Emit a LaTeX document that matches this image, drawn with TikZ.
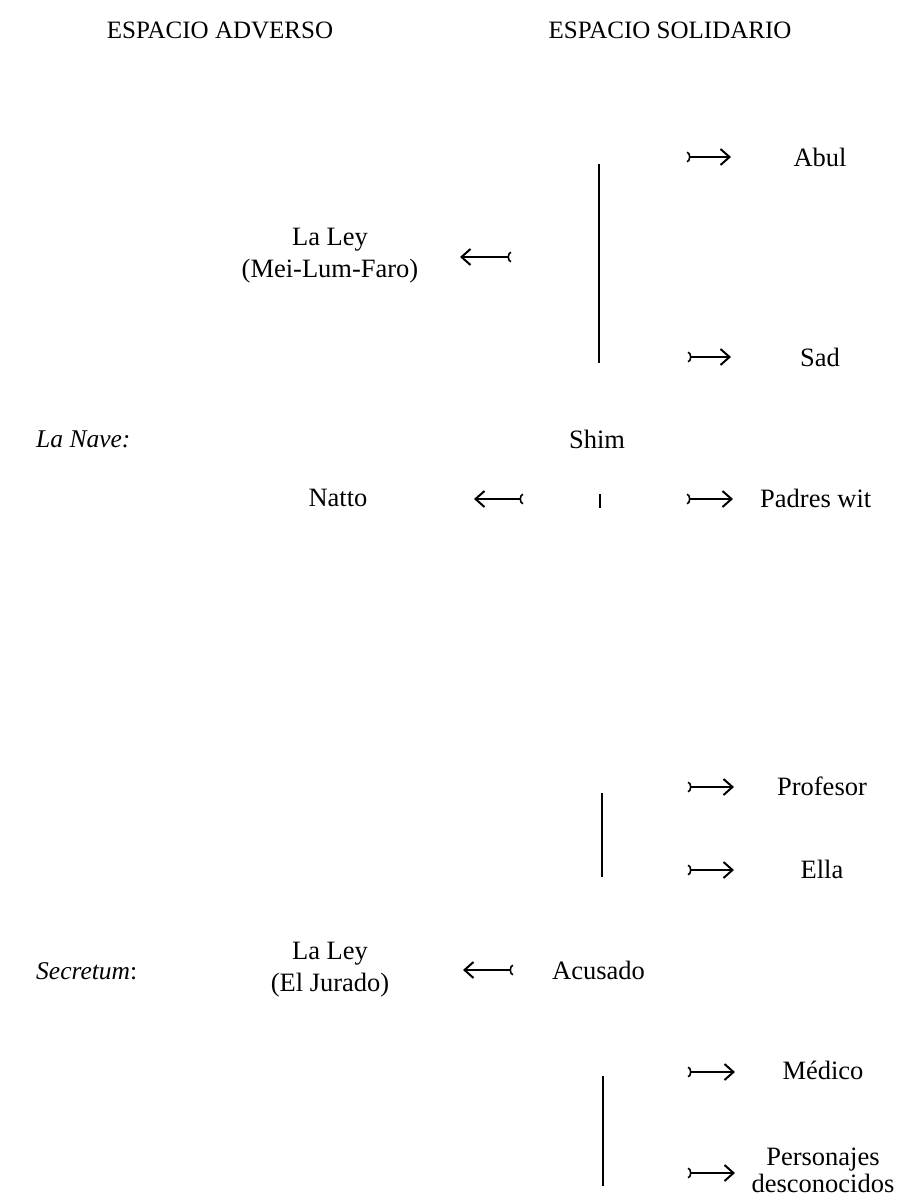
\documentclass[tikz,border=0pt]{standalone}
\usepackage{fontspec}
\setmainfont{Liberation Serif}
\usetikzlibrary{arrows.meta}
\begin{document}
\begin{tikzpicture}[x=1pt,y=-1pt,
  lbl/.style={font=\fontsize{26.5}{32}\selectfont, inner sep=0pt, align=center},
  itl/.style={font=\fontsize{25.5}{30}\selectfont, inner sep=0pt, anchor=west},
  head/.style={font=\fontsize{25}{30}\selectfont, inner sep=0pt},
  bar/.style={line width=2.2pt},
  conn/.style={line width=2pt, {Arc Barb[reversed,length=3.5pt,width=11pt,line width=1.6pt]}-{Straight Barb[length=9pt,width=16pt,line width=2pt]}}
]
\useasboundingbox (0,0) rectangle (911,1199);
% headings
\node[head] (hA) at (220,30) {ESPACIO ADVERSO};
\node[head] (hS) at (670,30) {ESPACIO SOLIDARIO};

% La Nave block
\coordinate (v1t) at (599,164);
\coordinate (v1b) at (599,363);
\draw[bar] (v1t) -- (v1b);
\coordinate (t1) at (687,157); \coordinate (h1) at (731,157);
\node[lbl] (abul) at (820,157) {Abul};
\draw[conn] (t1) -- (h1);
\coordinate (t2) at (688,357); \coordinate (h2) at (731,357);
\node[lbl] (sad) at (820,357) {Sad};
\draw[conn] (t2) -- (h2);
\node[lbl] (ley1) at (330,256) {La Ley\\(Mei-Lum-Faro)};
\coordinate (t3) at (511,257); \coordinate (h3) at (460,257);
\draw[conn] (t3) -- (h3);

\node[itl] (nave) at (36,439) {\itshape La Nave:};
\node[lbl] (shim) at (597,439) {Shim};

\node[lbl] (natto) at (338,498) {Natto};
\coordinate (t4) at (523,499); \coordinate (h4) at (474,499);
\draw[conn] (t4) -- (h4);
\coordinate (k1) at (600,494); \coordinate (k2) at (600,508);
\draw[line width=2pt] (k1) -- (k2);
\coordinate (t5) at (687,499); \coordinate (h5) at (733,499);
\draw[conn] (t5) -- (h5);
\node[lbl, anchor=west] (padres) at (760,498) {Padres wit};

% Secretum block
\coordinate (v2t) at (602,793);
\coordinate (v2b) at (602,877);
\draw[bar] (v2t) -- (v2b);
\coordinate (t6) at (688,787); \coordinate (h6) at (734,787);
\draw[conn] (t6) -- (h6);
\node[lbl] (prof) at (822,786) {Profesor};
\coordinate (t7) at (688,870); \coordinate (h7) at (734,870);
\draw[conn] (t7) -- (h7);
\node[lbl] (ella) at (822,869) {Ella};

\node[itl] (secr) at (36,971) {\textit{Secretum}:};
\node[lbl] (ley2) at (330,970) {La Ley\\(El Jurado)};
\coordinate (t8) at (513,970); \coordinate (h8) at (463,970);
\draw[conn] (t8) -- (h8);
\node[lbl, anchor=west] (acus) at (552,970) {Acusado};

\coordinate (v3t) at (603,1076);
\coordinate (v3b) at (603,1186);
\draw[bar] (v3t) -- (v3b);
\coordinate (t9) at (688,1072); \coordinate (h9) at (735,1072);
\draw[conn] (t9) -- (h9);
\node[lbl] (med) at (823,1070) {Médico};
\coordinate (t10) at (688,1173); \coordinate (h10) at (735,1173);
\draw[conn] (t10) -- (h10);
\node[lbl, font=\fontsize{26.5}{27}\selectfont] (pers) at (823,1170) {Personajes\\desconocidos};
\end{tikzpicture}
\end{document}
